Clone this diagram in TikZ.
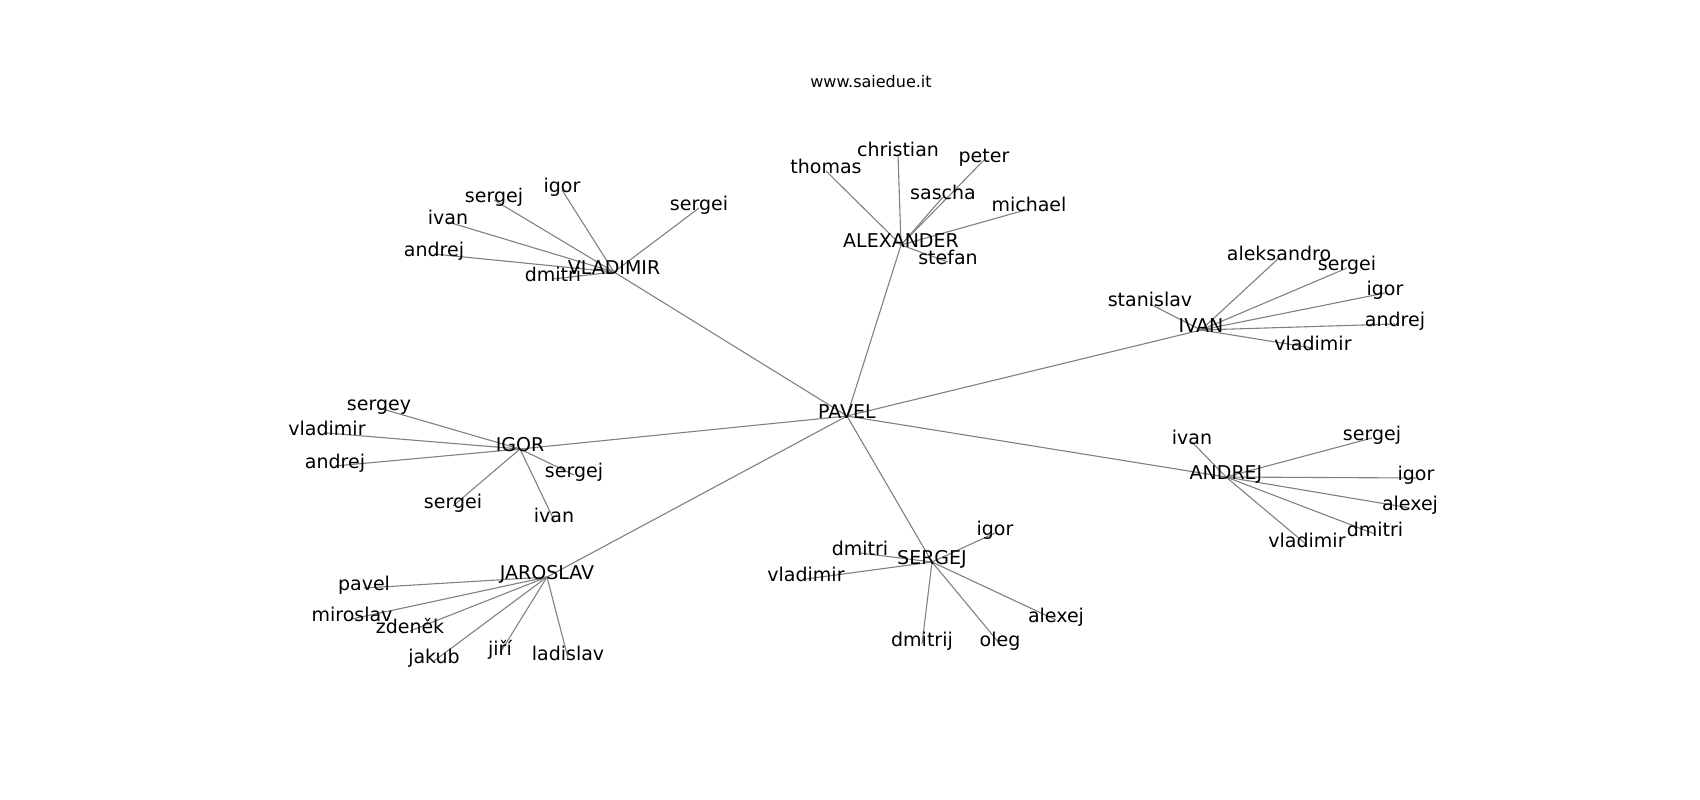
\documentclass[tikz,border=0pt]{standalone}
\usepackage{fontspec}
\setmainfont{DejaVu Sans}
\usetikzlibrary{backgrounds}
\definecolor{edgegray}{gray}{0.5}
\newcommand{\namesize}{\fontsize{19}{23}\selectfont}
\newcommand{\titlesize}{\fontsize{16}{19}\selectfont}

\begin{document}
\begin{tikzpicture}[x=1pt,y=-1pt]
                %\draw[help lines] (0,0) grid (1700,800);
                \tikzset{person/.style = {inner sep = 0pt, outer sep = 0pt, text height = 0.76em, text depth = 0.22em, font = \namesize}}
                \tikzset{tie/.style = {draw = edgegray, line width = 1.1pt}}
                \useasboundingbox (0,-3) rectangle (1700,797);
                \node[inner sep=0pt, font=\titlesize] (title) at (871,79) {www.saiedue.it};
                % hubs
                \node[person] (pavel) at (847,413) {PAVEL};
                \node[person] (vladimir) at (614,269) {VLADIMIR};
                \node[person] (alexander) at (901,242) {ALEXANDER};
                \node[person] (ivan) at (1201,327) {IVAN};
                \node[person] (andrej) at (1226,474) {ANDREJ};
                \node[person] (sergej) at (932,559) {SERGEJ};
                \node[person] (jaroslav) at (547,574) {JAROSLAV};
                \node[person] (igor) at (520,446) {IGOR};
                % VLADIMIR
                \node[person] (v-sergej) at (494,197) {sergej};
                \node[person] (v-igor) at (562,187) {igor};
                \node[person] (v-ivan) at (448,219) {ivan};
                \node[person] (v-andrej) at (434,251) {andrej};
                \node[person] (v-dmitri) at (553,276) {dmitri};
                \node[person] (v-sergei) at (699,205) {sergei};
                % ALEXANDER
                \node[person] (a-thomas) at (826,168) {thomas};
                \node[person] (a-christian) at (898,151) {christian};
                \node[person] (a-peter) at (984,157) {peter};
                \node[person] (a-sascha) at (943,194) {sascha};
                \node[person] (a-michael) at (1029,206) {michael};
                \node[person] (a-stefan) at (948,259) {stefan};
                % IVAN
                \node[person] (i-stanislav) at (1150,301) {stanislav};
                \node[person] (i-aleksandro) at (1279,255) {aleksandro};
                \node[person] (i-sergei) at (1347,265) {sergei};
                \node[person] (i-igor) at (1385,290) {igor};
                \node[person] (i-andrej) at (1395,321) {andrej};
                \node[person] (i-vladimir) at (1313,345) {vladimir};
                % ANDREJ
                \node[person] (n-ivan) at (1192,439) {ivan};
                \node[person] (n-sergej) at (1372,435) {sergej};
                \node[person] (n-igor) at (1416,475) {igor};
                \node[person] (n-alexej) at (1410,505) {alexej};
                \node[person] (n-dmitri) at (1375,531) {dmitri};
                \node[person] (n-vladimir) at (1307,542) {vladimir};
                % SERGEJ
                \node[person] (s-igor) at (995,530) {igor};
                \node[person] (s-dmitri) at (860,550) {dmitri};
                \node[person] (s-vladimir) at (806,576) {vladimir};
                \node[person] (s-dmitrij) at (922,641) {dmitrij};
                \node[person] (s-oleg) at (1000,641) {oleg};
                \node[person] (s-alexej) at (1056,617) {alexej};
                % JAROSLAV
                \node[person] (j-pavel) at (364,585) {pavel};
                \node[person] (j-miroslav) at (352,616) {miroslav};
                \node[person] (j-zdenek) at (410,628) {zdeněk};
                \node[person] (j-jakub) at (434,658) {jakub};
                \node[person] (j-jiri) at (500,650) {jiří};
                \node[person] (j-ladislav) at (568,655) {ladislav};
                % IGOR
                \node[person] (g-sergey) at (379,405) {sergey};
                \node[person] (g-vladimir) at (327,430) {vladimir};
                \node[person] (g-andrej) at (335,463) {andrej};
                \node[person] (g-sergej) at (574,472) {sergej};
                \node[person] (g-sergei) at (453,503) {sergei};
                \node[person] (g-ivan) at (554,517) {ivan};
                \begin{scope}[on background layer]
                \foreach \h in {vladimir,alexander,ivan,andrej,sergej,jaroslav,igor}
                        \draw[tie] (pavel.center) -- (\h.center);
                \foreach \l in {sergej,igor,ivan,andrej,dmitri,sergei}
                        \draw[tie] (vladimir.center) -- (v-\l.center);
                \foreach \l in {thomas,christian,peter,sascha,michael,stefan}
                        \draw[tie] (alexander.center) -- (a-\l.center);
                \foreach \l in {stanislav,aleksandro,sergei,igor,andrej,vladimir}
                        \draw[tie] (ivan.center) -- (i-\l.center);
                \foreach \l in {ivan,sergej,igor,alexej,dmitri,vladimir}
                        \draw[tie] (andrej.center) -- (n-\l.center);
                \foreach \l in {igor,dmitri,vladimir,dmitrij,oleg,alexej}
                        \draw[tie] (sergej.center) -- (s-\l.center);
                \foreach \l in {pavel,miroslav,zdenek,jakub,jiri,ladislav}
                        \draw[tie] (jaroslav.center) -- (j-\l.center);
                \foreach \l in {sergey,vladimir,andrej,sergej,sergei,ivan}
                        \draw[tie] (igor.center) -- (g-\l.center);
                \end{scope}
\end{tikzpicture}
\end{document}
